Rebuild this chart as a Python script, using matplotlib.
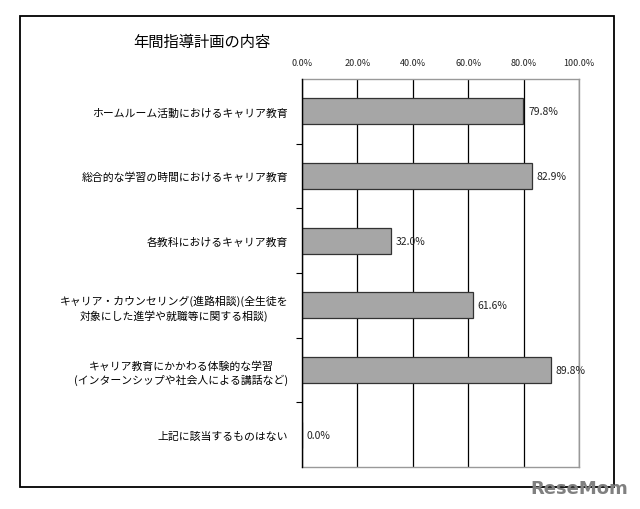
import matplotlib
matplotlib.use("Agg")
import matplotlib.pyplot as plt
from matplotlib.patches import Rectangle

plt.rcParams['font.family'] = ['Noto Sans CJK JP', 'DejaVu Sans']

title = "年間指導計画の内容"
categories = [
    "ホームルーム活動におけるキャリア教育",
    "総合的な学習の時間におけるキャリア教育",
    "各教科におけるキャリア教育",
    "キャリア・カウンセリング(進路相談)(全生徒を\n対象にした進学や就職等に関する相談)",
    "キャリア教育にかかわる体験的な学習\n(インターンシップや社会人による講話など)",
    "上記に該当するものはない",
]
values = [79.8, 82.9, 32.0, 61.6, 89.8, 0.0]
xticks = [0, 20, 40, 60, 80, 100]
xtick_labels = ["0.0%", "20.0%", "40.0%", "60.0%", "80.0%", "100.0%"]

W, H = 640, 510
fig = plt.figure(figsize=(6.4, 5.1), dpi=100)

# outer frame
fig.patches.append(Rectangle((20 / W, 1 - 488 / H), 594 / W, 471 / H,
                             transform=fig.transFigure, fill=False,
                             edgecolor='black', linewidth=1.3))

ax = fig.add_axes([302 / W, 1 - 468 / H, 277 / W, 388 / H])
n = len(categories)
pos = list(range(n))
ax.barh(pos, values, height=0.4, color='#A6A6A6', edgecolor='#333333',
        linewidth=0.9, zorder=3)
ax.set_xlim(0, 100)
ax.set_ylim(n - 0.5, -0.5)

ax.set_xticks(xticks)
ax.set_xticklabels(xtick_labels, fontsize=6.5, color='#222222')
ax.xaxis.tick_top()
ax.tick_params(axis='x', length=0, pad=9)
ax.grid(axis='x', color='black', linewidth=0.9, zorder=1)

ax.set_yticks(pos)
ax.set_yticklabels(categories, fontsize=7.8, linespacing=1.3)
for lab in ax.get_yticklabels():
    lab.set_horizontalalignment('right')
    lab.set_multialignment('center')
ax.tick_params(axis='y', length=0, pad=10)
# minor ticks at category boundaries
ax.set_yticks([p + 0.5 for p in pos[:-1]], minor=True)
ax.tick_params(axis='y', which='minor', length=4, width=0.8, color='black', direction='out')

for side in ['top', 'right', 'bottom']:
    ax.spines[side].set_color('#999999')
    ax.spines[side].set_linewidth(1.0)
ax.spines['left'].set_color('black')
ax.spines['left'].set_linewidth(1.0)
ax.spines['left'].set_zorder(4)

for p, v in zip(pos, values):
    ax.text(v + 1.8, p, f"{v:.1f}%", va='center', ha='left', fontsize=7.5,
            color='#222222', zorder=5)

fig.text(133 / W, 1 - 42 / H, title, fontsize=11, va='center', ha='left')

fig.text(628 / W, 1 - 489 / H, "ReseMom", fontsize=13, fontweight='bold',
         color='#808080', ha='right', va='center', family='DejaVu Sans')

fig.savefig("out.png", dpi=100)
